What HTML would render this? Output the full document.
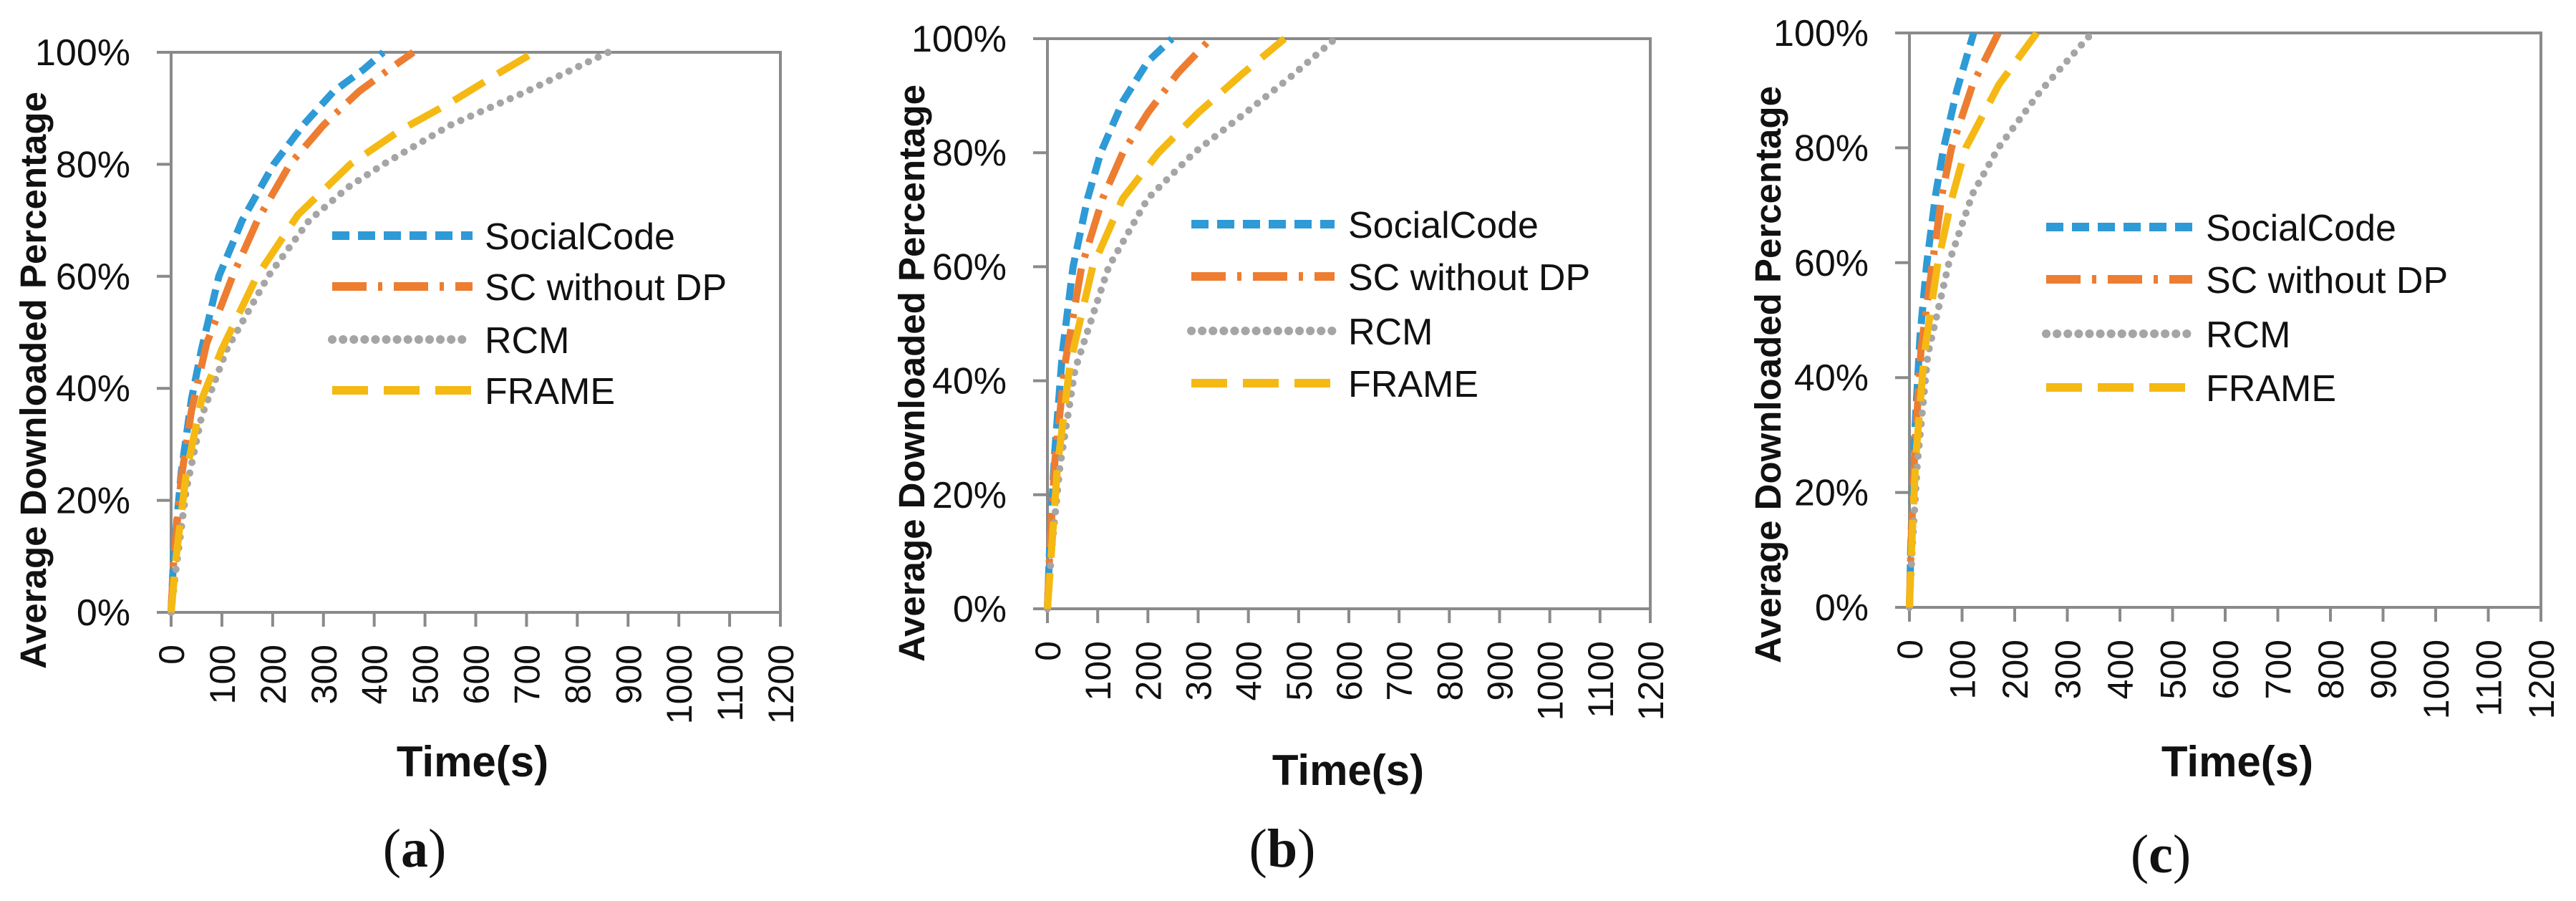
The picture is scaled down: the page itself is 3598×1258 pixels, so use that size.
<!DOCTYPE html>
<html><head><meta charset="utf-8">
<style>
html,body{margin:0;padding:0;background:#fff;}
svg{display:block;}
text{font-family:"Liberation Sans",sans-serif;fill:#111;}
</style></head>
<body>
<svg id="fig" width="3598" height="1258" viewBox="0 0 3598 1258" xmlns="http://www.w3.org/2000/svg"></svg>
<script>
const xTicks = [0,100,200,300,400,500,600,700,800,900,1000,1100,1200];
const yTicks = [0,20,40,60,80,100];
const seriesNames = ["SocialCode","SC without DP","RCM","FRAME"];
const panelLabels = ["a","b","c"];

// Panel (a)
const aSocialT = [0,5,20,40,60,94,140,202,260,320,380,418];
const aSocialV = [0,10,25,38,47,60,70,80,87,93,97,100];
const aScT = [0,5,20,40,70,121,170,234,300,370,430,477];
const aScV = [0,9,24,36,48,60,70,80,87,93,97,100];
const aRcmT = [0,10,30,60,110,191,272,350,418,550,700,861];
const aRcmV = [0,8,22,35,47,60,70,76,80,87,93,100];
const aFrameT = [0,10,30,60,100,169,250,353,450,550,640,715];
const aFrameV = [0,10,25,38,47,60,71,80,86,91,96,100];
// Panel (b)
const bSocialT = [0,5,15,30,51,80,106,150,200,248];
const bSocialV = [0,12,28,45,60,72,80,89,96,100];
const bScT = [0,5,15,35,68,110,150,200,260,325];
const bScV = [0,11,26,43,60,72,80,87,94,100];
const bRcmT = [0,8,25,55,122,200,292,380,480,573];
const bRcmV = [0,10,25,42,60,72,80,86,93,100];
const bFrameT = [0,8,20,45,90,150,221,300,390,472];
const bFrameV = [0,10,25,43,60,72,80,87,94,100];
// Panel (c)
const cSocialT = [0,3,10,20,33,50,65,90,122];
const cSocialV = [0,12,30,47,60,72,80,90,100];
const cScT = [0,3,10,22,44,62,80,120,169];
const cScV = [0,11,27,45,60,72,80,91,100];
const cRcmT = [0,5,15,35,75,120,169,250,347];
const cRcmV = [0,10,25,44,60,72,80,90,100];
const cFrameT = [0,4,12,28,54,80,107,170,242];
const cFrameV = [0,10,26,44,60,71,80,91,100];

const panelData = [
  [[aSocialT,aSocialV],[aScT,aScV],[aRcmT,aRcmV],[aFrameT,aFrameV]],
  [[bSocialT,bSocialV],[bScT,bScV],[bRcmT,bRcmV],[bFrameT,bFrameV]],
  [[cSocialT,cSocialV],[cScT,cScV],[cRcmT,cRcmV],[cFrameT,cFrameV]]
];

const layouts = [
  {L:239,R:1090,T:73,B:855,lx1:464,lx2:660,tx:677,rows:[329,400,474,545],ylx:46,yly:531,ttx:660,tty:1063,px:579,py:1186},
  {L:1463,R:2305,T:54,B:850,lx1:1664,lx2:1864,tx:1883,rows:[313,386,462,535],ylx:1273,yly:521,ttx:1883,tty:1075,px:1791,py:1186},
  {L:2667,R:3549,T:46,B:848,lx1:2858,lx2:3062,tx:3081,rows:[317,390,466,541],ylx:2469,yly:523,ttx:3125,tty:1063,px:3018,py:1194}
];
const styles = [
  {c:"#2e9ad6",d:"24 12",cap:"butt"},
  {c:"#ed7d31",d:"48 16 6 16",cap:"butt"},
  {c:"#a5a5a5",d:"0.1 15",cap:"round"},
  {c:"#f5b914",d:"50 22",cap:"butt"}
];
const NS="http://www.w3.org/2000/svg";
const svg=document.getElementById('fig');
function mk(tag,attrs,parent){const e=document.createElementNS(NS,tag);for(const k in attrs)e.setAttribute(k,attrs[k]);(parent||svg).appendChild(e);return e;}

layouts.forEach((P,pi)=>{
  const g=mk('g',{});
  
  
  const xs=t=>P.L+(P.R-P.L)*t/1200;
  const ys=v=>P.B-(P.B-P.T)*v/100;
  const fr=mk('rect',{x:P.L,y:P.T,width:P.R-P.L,height:P.B-P.T,fill:'none',stroke:'#8a8a8a','stroke-width':4},g);
  
  
  yTicks.forEach(v=>{
    const tl=mk('line',{x1:P.L-20,x2:P.L,y1:ys(v),y2:ys(v),stroke:'#8a8a8a','stroke-width':4},g);
    
    
    const tx=mk('text',{x:P.L-57,y:ys(v)+18,'font-size':52,'text-anchor':'end'},g);
    tx.textContent=v+'%';
    
    
  });
  xTicks.forEach(t=>{
    const tl=mk('line',{x1:xs(t),x2:xs(t),y1:P.B,y2:P.B+20,stroke:'#8a8a8a','stroke-width':4},g);
    
    
    const tx=mk('text',{x:0,y:0,'font-size':50,'text-anchor':'end',transform:`translate(${xs(t)+18},${P.B+45}) rotate(-90)`},g);
    tx.textContent=t;
    
    
  });
  panelData[pi].forEach((s,si)=>{
    const st=styles[si];
    const pts=s[0].map((t,i)=>xs(t).toFixed(1)+','+ys(s[1][i]).toFixed(1)).join(' ');
    const pl=mk('polyline',{points:pts,fill:'none',stroke:st.c,'stroke-width':10,'stroke-dasharray':st.d,'stroke-linecap':st.cap,'stroke-linejoin':'round'},g);
    
    
    const ll=mk('line',{x1:P.lx1,x2:P.lx2,y1:P.rows[si],y2:P.rows[si],stroke:st.c,'stroke-width':12,'stroke-dasharray':st.d,'stroke-linecap':st.cap},g);
    
    
    const lt=mk('text',{x:P.tx,y:P.rows[si]+19,'font-size':52},g);
    lt.textContent=seriesNames[si];
    
    
  });
  const yt=mk('text',{x:0,y:0,'font-size':51,'font-weight':'bold','text-anchor':'middle',transform:`translate(${P.ylx+18},${P.yly}) rotate(-90)`},g);
  yt.setAttribute('xml:space','preserve');
  yt.textContent='Average  Downloaded Percentage';
  
  
  const xt=mk('text',{x:P.ttx,y:P.tty+21,'font-size':60,'font-weight':'bold','text-anchor':'middle'},g);
  xt.textContent='Time(s)';
  
  
  const pl=mk('text',{x:P.px,y:P.py+24,'font-size':76,'text-anchor':'middle',style:'font-family:"Liberation Serif",serif'},g);
  pl.innerHTML='(<tspan font-weight="bold">'+panelLabels[pi]+'</tspan>)';
  
  
});
</script>
</body></html>
